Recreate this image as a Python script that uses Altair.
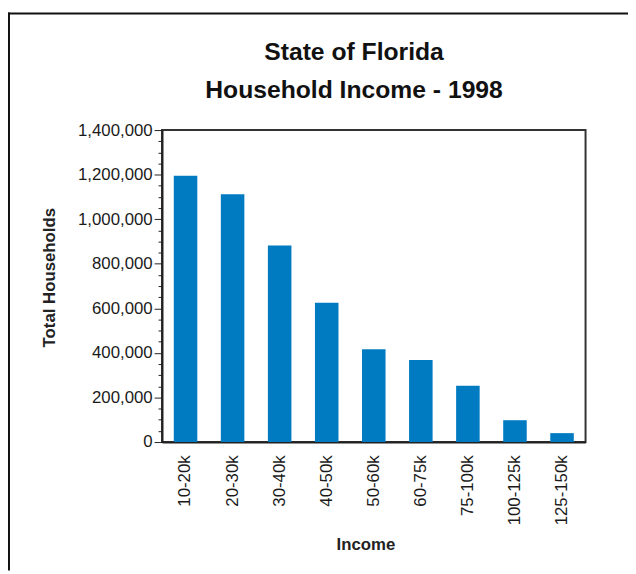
import altair as alt
import pandas as pd

categories = ["10-20k", "20-30k", "30-40k", "40-50k", "50-60k", "60-75k", "75-100k", "100-125k", "125-150k"]
households = [1195000, 1112000, 882000, 625000, 416000, 368000, 253000, 98000, 40000]

df = pd.DataFrame({"Income": categories, "Households": households})
FONT = "Liberation Sans"

bars = alt.Chart(df).mark_bar(color="#007BC2").encode(
    x=alt.X(
        "Income:N",
        sort=categories,
        scale=alt.Scale(paddingInner=0.5, paddingOuter=0.25),
        axis=alt.Axis(
            title="Income",
            grid=False,
            labelAngle=-90,
            labelAlign="right",
            labelBaseline="middle",
            labelPadding=13,
            ticks=False,
            labelFontSize=17,
            labelColor="#1a1a1a",
            labelFont=FONT,
            titleFont=FONT,
            titleFontSize=17,
            titleFontWeight="bold",
            titleColor="#222222",
            titleX=206,
            titleY=109,
            titleBaseline="alphabetic",
            domainColor="#222222",
            domainWidth=2,
        ),
    ),
    y=alt.Y(
        "Households:Q",
        scale=alt.Scale(domain=[0, 1400000], nice=False),
        axis=alt.Axis(
            title="Total Households",
            grid=False,
            values=list(range(0, 1400001, 50000)),
            labelExpr="datum.value % 200000 === 0 ? format(datum.value, ',') : ''",
            tickSize={"condition": {"test": "datum.value % 200000 === 0", "value": 8}, "value": 4},
            tickColor="#222222",
            labelFontSize=17,
            labelColor="#1a1a1a",
            labelFont=FONT,
            labelPadding=2,
            labelOverlap=False,
            titleFont=FONT,
            titleFontSize=17,
            titleFontWeight="bold",
            titleColor="#222222",
            titleX=-105,
            titleY=149,
            domainColor="#222222",
            domainWidth=2,
        ),
    ),
)

frame_df = pd.DataFrame({"k": [0]})
top_line = alt.Chart(frame_df).mark_rule(color="#111111", strokeWidth=2).encode(
    x=alt.value(-156), x2=alt.value(472), y=alt.value(-118)
)
left_line = alt.Chart(frame_df).mark_rule(color="#111111", strokeWidth=2).encode(
    x=alt.value(-155), y=alt.value(-119), y2=alt.value(446)
)

chart = alt.layer(bars, top_line, left_line).properties(
    width=429,
    height=316,
    autosize=alt.AutoSizeParams(type="none"),
    padding={"left": 156, "top": 120, "right": 43, "bottom": 130},
    title=alt.TitleParams(
        text=["State of Florida", "Household Income - 1998"],
        fontSize=25,
        font=FONT,
        fontWeight="bold",
        color="#111111",
        lineHeight=39,
        anchor="middle",
        frame="group",
        dx=-20,
        offset=-93,
    ),
).configure_view(stroke="#333333", strokeWidth=2)

chart.save("out.html", embed_options={"renderer": "svg", "actions": False})
